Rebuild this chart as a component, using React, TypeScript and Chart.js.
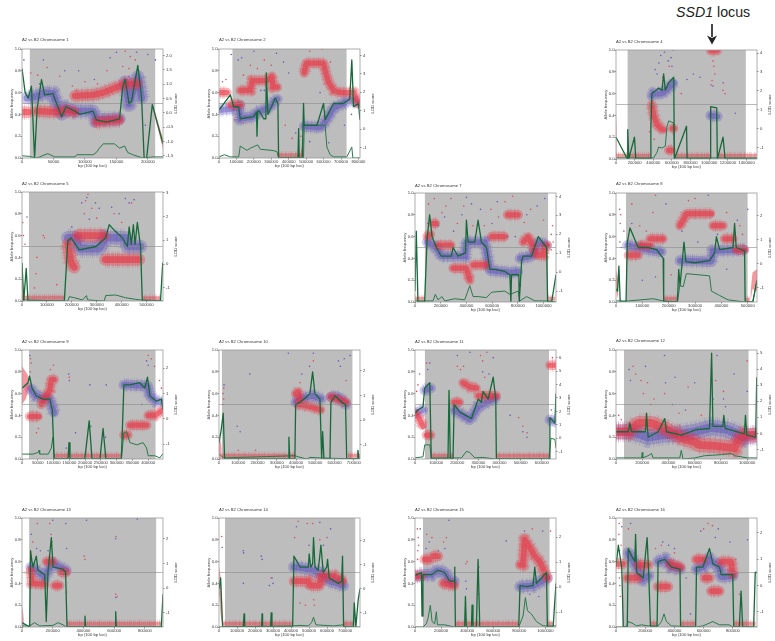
import React, { useEffect, useRef } from "react";
import { Chart, registerables } from "chart.js";
Chart.register(...registerables);

type P = [number, number | null];
const xLabel = "bp (100 bp loci)";
const yLabel = "Allele frequency";
const lodLabel = "LOD score";
const afTicks = [0, 0.2, 0.4, 0.6, 0.8, 1];

// All x values below are in thousands of bp; y values are readings against the 0-1 frequency axis.
const chr1Green: P[] = [[0,.82],[5,.6],[10,.55],[15,.66],[20,0],[24,.45],[31,.72],[36,.58],[49,.59],[55,.5],[63,.38],[70,.47],[84,.43],[92,.4],[113,.43],[118,.35],[134,.33],[155,.36],[160,.65],[164,.72],[170,.5],[174,.52],[184,.85],[190,.55],[194,0],[198,0],[207,.49],[224,.13]];
const chr1Low: P[] = [[0,.02],[12,.015],[23,0],[28,.01],[41,.04],[52,.01],[84,.01],[87,.03],[113,.03],[118,.05],[123,.09],[129,.13],[147,.13],[155,.09],[163,.11],[168,.05],[176,.03],[192,0],[208,.01],[224,.01]];
const chr1Blue: P[] = [[8,.55],[18,.56],[26,.57],[36,.6],[49,.59],[55,.5],[63,.4],[70,.46],[84,.43],[113,.43],[118,.35],[155,.36],[0,null],[164,.7],[170,.5],[184,.75],[190,.55]];
const chr1Red: P[] = [[0,.42],[11,.42],[0,null],[24,.43],[55,.42],[70,.44],[84,.42],[0,null],[84,.57],[113,.58],[129,.6],[155,.66],[165,.68],[184,.68],[0,null],[118,.33],[155,.35]];
const chr1Base: P[] = [];
const chr1Wedge = [[207,.47,.51],[224,.08,.18]];
const chr1DotsR: P[] = [[14,.78],[25,.76],[40,.83],[80,.66],[100,.7],[120,.68],[135,.8],[160,.84],[170,.82],[180,.9],[164,.98],[172,.93],[86,.62],[60,.75]];
const chr1DotsB: P[] = [[3,.9],[28,.68],[68,.8],[90,.8],[115,.72],[140,.92],[150,.97],[170,.75],[182,.97],[200,.95],[212,.9],[196,.3],[34,.9]];

const chr2Green: P[] = [[0,.44],[65,.58],[84,.47],[113,.47],[122,.36],[199,.38],[215,.42],[218,.2],[222,.43],[233,.43],[256,.36],[269,.36],[271,.78],[281,.4],[323,.55],[338,.5],[342,0],[453,0],[457,.27],[460,0],[478,0],[485,.5],[489,.3],[562,.3],[600,.5],[609,.35],[657,.5],[714,.5],[750,.54],[762,.9],[772,.47],[800,.5],[809,.35]];
const chr2Low: P[] = [[0,.01],[31,.03],[65,.01],[113,.01],[122,.11],[160,.07],[180,.09],[222,.12],[237,.08],[304,.07],[332,.06],[342,0],[485,0],[489,.3],[609,.3],[619,.1],[638,.03],[657,.01],[733,.01],[762,.1],[768,0],[809,0]];
const chr2Blue: P[] = [[0,.44],[70,.45],[113,.47],[122,.36],[199,.38],[218,.42],[256,.44],[294,.47],[323,.53],[335,.54],[0,null],[489,.29],[581,.28],[609,.33],[628,.38],[657,.46],[714,.5],[753,.54],[800,.5]];
const chr2Red: P[] = [[8,.6],[46,.6],[0,null],[65,.49],[122,.49],[0,null],[122,.62],[180,.62],[190,.71],[275,.71],[304,.75],[310,.65],[335,.65],[0,null],[489,.78],[500,.87],[600,.87],[609,.8],[628,.7],[657,.62],[695,.6],[772,.6],[800,.5]];
const chr2Base: P[] = [[342,.025],[476,.025]];
const chr2Wedge = [[470,0,.06],[486,0,.2]];
const chr2DotsR: P[] = [[20,.7],[40,.72],[90,.35],[140,.76],[180,.85],[220,.82],[260,.9],[300,.85],[520,.98],[590,1],[640,.88],[380,.3],[420,.18],[470,.2],[140,.32]];
const chr2DotsB: P[] = [[70,.95],[130,.92],[200,.98],[240,.62],[260,.62],[330,.96],[440,.23],[370,.88],[400,.78],[520,.15],[580,.6],[630,.14],[720,.3],[760,.4],[110,.9]];

const chr4Green: P[] = [[0,.2],[122,0],[126,.27],[137,0],[198,.2],[212,0],[367,0],[374,.3],[385,.6],[457,.65],[493,.63],[511,.78],[529,.63],[565,.7],[619,.75],[626,0],[756,.3],[763,0],[1008,0],[1015,.48],[1080,.47],[1087,0],[1148,.2],[1170,0],[1512,0]];
const chr4Low: P[] = [[0,.01],[367,.01],[403,.01],[439,.06],[457,.11],[493,.1],[529,.12],[547,.3],[565,.35],[619,.33],[626,.01],[1512,.01]];
const chr4Blue: P[] = [[385,.58],[403,.6],[493,.6],[565,.65],[619,.7],[0,null],[1015,.4],[1087,.39]];
const chr4Red: P[] = [[385,.5],[403,.4],[439,.32],[475,.28],[511,.27],[0,null],[565,.08],[601,.08],[0,null],[605,.28],[622,.28],[0,null],[1015,.995],[1087,.995]];
const chr4Base: P[] = [[0,.03],[367,.03],[0,null],[626,.03],[1008,.03],[0,null],[1087,.03],[1512,.03]];
const chr4Wedge = [[0,.15,.4],[8,.03,.3]];
const chr4DotsR: P[] = [[1040,.9],[1050,.85],[1060,.78],[1030,.72],[1020,.68],[360,.25],[410,.18],[700,.6],[1148,.63],[1170,.6],[500,.75],[570,.85]];
const chr4DotsB: P[] = [[420,.82],[460,.88],[480,.95],[520,.98],[560,.9],[610,1],[590,.93],[440,.78],[760,.73],[830,.78],[900,.75],[1040,.67],[1150,.7],[1280,.42],[600,.85]];

const chr5Green: P[] = [[0,.35],[7,0],[17,.3],[24,0],[170,0],[184,.55],[197,.58],[230,.47],[297,.5],[336,.58],[350,.7],[370,.65],[403,.58],[423,.5],[430,.68],[439,.52],[447,.7],[454,.52],[463,.72],[476,.5],[483,0],[556,0],[565,.35]];
const chr5Low: P[] = [[0,.01],[184,0],[190,.04],[210,.03],[243,.01],[259,.05],[263,.01],[330,0],[336,.05],[376,.055],[416,.03],[456,.015],[476,.01],[565,0]];
const chr5Blue: P[] = [[184,.58],[216,.58],[230,.48],[310,.48],[336,.58],[416,.58],[423,.5],[476,.5]];
const chr5Red: P[] = [[184,.52],[197,.35],[210,.31],[0,null],[223,.6],[330,.6],[0,null],[334,.38],[470,.38]];
const chr5Base: P[] = [[0,.03],[170,.03],[0,null],[483,.025],[556,.025]];
const chr5Wedge = [[0,0,.35],[6,0,.1]];
const chr5DotsR: P[] = [[3,.72],[6,.6],[12,.52],[90,.58],[85,.6],[60,.4],[56,.25],[140,.15],[250,.8],[255,.92],[265,.98],[280,.85],[300,.76],[370,.8],[400,.72],[440,.9],[50,.12]];
const chr5DotsB: P[] = [[20,.77],[260,.95],[270,.75],[310,.85],[360,.86],[390,.8],[415,.94],[430,.9],[450,.93],[200,.68],[240,.9],[295,.9]];

const chr7Green: P[] = [[0,.1],[10,.65],[23,0],[75,0],[94,.58],[114,.8],[133,.6],[166,.5],[205,.42],[283,.42],[296,.5],[335,.42],[393,.45],[400,.75],[413,.55],[465,.55],[491,.75],[517,.55],[556,.5],[582,.3],[621,.3],[699,.28],[738,.25],[746,0],[751,.25],[808,.25],[811,0],[830,.38],[842,.42],[907,.42],[959,.6],[1024,.5],[1032,0],[1063,0],[1097,.25]];
const chr7Low: P[] = [[0,.01],[140,.01],[158,.07],[179,.02],[210,.05],[231,.01],[309,.03],[387,.02],[426,.15],[452,.05],[491,.05],[556,.04],[595,.09],[699,.1],[738,.07],[803,.1],[816,.01],[868,.05],[933,.01],[1037,.01],[1097,0]];
const chr7Blue: P[] = [[94,.55],[166,.5],[205,.42],[296,.42],[390,.42],[400,.55],[543,.55],[582,.29],[751,.27],[800,.28],[0,null],[816,.4],[907,.42],[959,.55],[1024,.52]];
const chr7Red: P[] = [[94,.6],[120,.62],[0,null],[140,.72],[166,.72],[0,null],[179,.52],[283,.52],[0,null],[296,.31],[400,.31],[426,.2],[0,null],[452,.34],[556,.34],[0,null],[595,.6],[699,.6],[0,null],[720,.8],[803,.8],[0,null],[842,.55],[881,.6],[920,.5],[946,.43],[998,.43],[1011,.5],[1030,.52]];
const chr7Base: P[] = [[0,.03],[75,.03],[0,null],[1037,.03],[1090,.03]];
const chr7DotsR: P[] = [[105,.9],[150,.95],[210,.82],[240,.88],[280,.95],[330,.72],[380,.88],[450,.7],[540,.7],[590,.85],[650,.78],[700,.92],[760,.97],[850,.73],[900,.85],[1000,.75],[1060,.62],[1070,.7],[1075,.55],[1060,.48]];
const chr7DotsB: P[] = [[100,.72],[180,.7],[230,.78],[300,.65],[365,.8],[400,.96],[440,.9],[510,.85],[600,.72],[640,.92],[720,.6],[780,.6],[870,.8],[950,.88],[1010,.95],[820,.15]];

const chr8Green: P[] = [[0,.12],[6,.1],[11,.33],[16,0],[38,0],[43,.55],[53,.68],[84,.5],[122,.5],[154,.48],[179,.4],[181,0],[233,0],[238,.3],[243,.15],[258,.55],[265,.37],[299,.36],[355,.38],[374,.45],[381,.6],[393,.48],[444,.5],[450,.72],[456,.5],[488,.47],[490,0],[519,0],[535,.2]];
const chr8Low: P[] = [[0,.01],[47,.01],[141,.03],[179,.01],[233,0],[242,.15],[255,.14],[267,.26],[355,.24],[362,.1],[393,.06],[425,.02],[488,0],[519,0],[532,.16],[535,.17]];
const chr8Blue: P[] = [[43,.52],[84,.5],[122,.48],[173,.46],[0,null],[242,.38],[362,.37],[368,.47],[488,.48]];
const chr8Red: P[] = [[47,.43],[84,.43],[0,null],[91,.52],[129,.52],[0,null],[129,.58],[179,.58],[0,null],[242,.7],[255,.75],[267,.81],[362,.81],[0,null],[368,.7],[406,.7],[0,null],[412,.58],[444,.58],[0,null],[456,.48],[488,.48]];
const chr8Base: P[] = [[179,.03],[236,.03],[0,null],[490,.02],[507,.02]];
const chr8Wedge = [[0,.1,.3],[8,.03,.2]];
const chr8Wedge2 = [[510,0,.08],[518,.12,.27],[535,.1,.3]];
const chr8DotsR: P[] = [[14,.85],[18,.8],[16,.72],[30,.65],[60,.9],[90,.7],[115,.65],[140,.82],[150,.98],[210,.25],[275,.93],[300,.95],[420,.82],[480,.62],[470,.7]];
const chr8DotsB: P[] = [[15,.55],[20,.5],[60,.72],[100,.2],[150,.23],[190,.9],[250,.65],[310,.55],[385,.62],[420,.3],[460,.75],[500,.85],[350,.98]];

const chr9Green: P[] = [[0,.65],[19,.7],[24,.76],[32,.65],[45,.58],[67,.55],[88,.55],[96,.45],[102,0],[146,0],[149,.15],[152,0],[199,0],[213,.35],[222,0],[247,0],[257,.28],[266,0],[315,0],[323,.68],[342,.68],[373,.7],[389,.65],[398,.75],[405,.58],[426,.53],[442,.55],[447,.45]];
const chr9Low: P[] = [[0,.045],[35,.045],[51,.06],[54,.08],[56,.045],[83,.045],[93,.1],[98,.2],[102,0],[315,0],[323,.24],[332,.25],[342,.15],[364,.13],[384,.15],[395,.1],[400,.03],[421,.03],[437,.01],[447,.05]];
const chr9Blue: P[] = [[24,.65],[45,.58],[67,.56],[88,.55],[102,.42],[0,null],[323,.68],[398,.67],[405,.58],[426,.53],[447,.52]];
const chr9Red: P[] = [[24,.39],[54,.39],[0,null],[61,.5],[77,.58],[88,.63],[93,.73],[102,.73],[0,null],[323,.22],[336,.22],[0,null],[342,.31],[395,.31],[0,null],[400,.4],[421,.4],[447,.45]];
const chr9Base: P[] = [[102,.03],[315,.03]];
const chr9Wedge = [[0,.5,.85],[12,.55,.8],[22,.65,.75]];
const chr9DotsR: P[] = [[27,.92],[29,.88],[26,.8],[90,.82],[100,.86],[46,.24],[52,.28],[150,.75],[420,.85],[410,.92],[400,.95],[436,.72],[442,.65],[436,.55]];
const chr9DotsB: P[] = [[25,.95],[140,.1],[148,.78],[150,.72],[170,.24],[218,.3],[215,.68],[265,.2],[267,.68],[380,.5],[400,.86],[395,.9]];

const chr10Green: P[] = [[0,.15],[10,.25],[22,.42],[29,0],[360,0],[363,.2],[367,0],[394,0],[398,.5],[420,.52],[455,.57],[472,.6],[486,.8],[498,.6],[524,.55],[533,0],[538,.25],[545,0],[576,0],[581,.52],[602,.58],[637,.52],[657,.5],[663,0],[720,0],[721,.08],[727,0]];
const chr10Low: P[] = [[0,.05],[22,.01],[394,.03],[412,.02],[455,0],[472,.015],[524,.01],[732,0]];
const chr10Blue: P[] = [[398,.52],[420,.55],[486,.58],[530,.55],[0,null],[581,.57],[620,.57],[660,.5]];
const chr10Red: P[] = [[398,.6],[412,.62],[420,.5],[472,.48],[530,.45],[0,null],[581,.57],[660,.52]];
const chr10Base: P[] = [[14,.03],[360,.03],[0,null],[370,.03],[394,.03],[0,null],[670,.03],[732,.03]];
const chr10Wedge = [[0,0,.25],[14,0,.1]];
const chr10DotsR: P[] = [[21,.6],[24,.55],[25,.65],[20,.5],[100,.08],[190,.08],[420,.7],[490,.9],[660,.72]];
const chr10DotsB: P[] = [[26,.68],[95,.3],[110,.25],[160,.78],[360,.97],[430,.78],[470,.85],[490,.97],[620,.9],[630,.85],[650,.92],[680,.95]];

const chr11Green: P[] = [[0,.42],[14,.45],[38,.48],[46,.65],[70,.7],[77,0],[156,0],[161,.63],[167,0],[180,0],[185,.5],[212,.43],[267,.37],[299,.55],[314,.52],[322,.62],[346,.55],[370,.75],[382,.55],[385,0],[634,0],[638,.38],[662,.33],[667,.6]];
const chr11Low: P[] = [[0,.01],[38,.02],[46,.13],[70,.13],[77,.01],[220,.01],[243,.07],[259,.06],[283,.01],[318,.015],[380,0],[634,0],[643,.19],[662,.18],[667,.1]];
const chr11Blue: P[] = [[0,.42],[38,.45],[0,null],[46,.63],[74,.65],[0,null],[185,.45],[212,.42],[260,.36],[299,.48],[380,.56],[0,null],[638,.36],[667,.34]];
const chr11Red: P[] = [[0,.42],[20,.37],[38,.3],[0,null],[54,.22],[74,.22],[0,null],[185,.52],[212,.52],[0,null],[227,.7],[260,.66],[291,.65],[0,null],[299,.58],[385,.58],[0,null],[638,.86],[667,.86]];
const chr11Base: P[] = [[77,.03],[156,.03],[0,null],[163,.03],[180,.03],[0,null],[385,.03],[634,.03]];
const chr11DotsR: P[] = [[8,.62],[14,.68],[22,.78],[55,.88],[215,.82],[230,.85],[200,.85],[310,.95],[320,.9],[340,.98],[330,.75],[510,.3],[530,.24],[490,.38],[650,.93]];
const chr11DotsB: P[] = [[60,.82],[70,.88],[200,.95],[260,.98],[320,.8],[350,.78],[370,.93],[450,.4],[510,.25],[530,.2],[645,.45]];

const chr12Green: P[] = [[0,.25],[94,.25],[106,.33],[119,.25],[225,.25],[233,.42],[245,.2],[321,.25],[372,.37],[385,.25],[498,.22],[612,.27],[713,.28],[729,.97],[739,.3],[815,.3],[822,.4],[832,.28],[979,.23],[987,.4],[997,.22],[1065,.2],[1073,.75]];
const chr12Low: P[] = [[0,.01],[195,.01],[200,.06],[204,.01],[245,.03],[271,.05],[283,.01],[486,.01],[498,.08],[511,0],[600,.01],[675,.03],[802,.04],[878,.05],[903,.03],[1004,.01],[1075,.01]];
const chr12Blue: P[] = [[0,.25],[120,.25],[245,.2],[347,.22],[498,.23],[600,.25],[726,.29],[853,.27],[979,.2],[1075,.22]];
const chr12Red: P[] = [[0,.25],[94,.25],[170,.33],[271,.33],[372,.28],[448,.23],[524,.18],[600,.16],[625,.13],[751,.12],[903,.1],[928,.17],[979,.22],[1075,.22]];
const chr12Base: P[] = [];
const chr12Wedge = [[478,.15,.32],[492,.15,.32]];
const chr12DotsR: P[] = [[20,.4],[40,.36],[150,.78],[190,.72],[210,.6],[240,.7],[265,.5],[370,.6],[480,.42],[550,.66],[650,.4],[760,.72],[820,.62],[1000,.9],[290,.55],[130,.85]];
const chr12DotsB: P[] = [[100,.82],[110,.72],[225,.85],[370,.95],[378,.7],[430,.5],[450,.75],[530,.45],[600,.7],[740,.55],[820,.55],[835,.48],[1000,.62],[770,.95],[900,.78]];

const chr13Green: P[] = [[0,.04],[50,0],[56,.7],[65,.6],[72,.55],[93,.65],[104,.52],[148,.48],[158,.05],[169,.5],[191,.82],[202,.55],[267,.53],[284,.5],[293,0],[408,0],[410,.1],[414,0],[607,0],[610,.14],[614,0],[907,0],[918,.3]];
const chr13Low: P[] = [[0,.01],[50,.01],[82,.04],[115,.01],[202,.015],[234,.04],[267,.02],[289,0],[918,0]];
const chr13Blue: P[] = [[56,.55],[93,.52],[148,.46],[170,.52],[202,.58],[289,.52]];
const chr13Red: P[] = [[56,.52],[65,.4],[148,.39],[0,null],[158,.6],[202,.6],[0,null],[213,.38],[245,.38],[0,null],[256,.5],[289,.5]];
const chr13Base: P[] = [[293,.03],[907,.03]];
const chr13Wedge = [[0,0,.2],[12,0,.08]];
const chr13DotsR: P[] = [[70,.78],[100,.95],[180,.95],[190,.85],[195,.78],[405,.65],[410,.62],[610,.3],[612,.83],[620,.28],[290,.32]];
const chr13DotsB: P[] = [[60,.85],[95,.72],[120,.7],[170,.7],[200,.98],[285,.95],[290,.72],[610,.81],[420,.98],[750,.99],[610,.27]];

const chr14Green: P[] = [[0,.35],[9,.45],[20,0],[135,0],[139,.12],[142,0],[237,0],[239,.12],[242,0],[287,0],[290,.13],[294,0],[409,0],[416,.65],[450,.55],[496,.55],[501,.67],[509,.55],[520,.58],[525,.82],[533,.55],[551,.52],[566,.75],[579,.5],[598,.55],[603,.62],[612,.45],[662,.4],[681,.42],[686,.65],[692,0],[746,0],[751,.22],[760,0],[773,.25],[783,.35]];
const chr14Low: P[] = [[0,0],[412,.01],[450,.015],[496,.01],[514,.04],[525,.09],[538,.02],[635,.01],[690,.02],[699,0],[783,0]];
const chr14Blue: P[] = [[416,.55],[470,.54],[560,.5],[612,.42],[660,.4],[690,.38]];
const chr14Red: P[] = [[416,.42],[496,.42],[505,.38],[560,.38],[566,.47],[640,.47],[690,.42]];
const chr14Base: P[] = [[20,.03],[409,.03],[0,null],[692,.03],[746,.03]];
const chr14Wedge = [[0,.3,.55],[10,.1,.45],[20,0,.1]];
const chr14DotsR: P[] = [[15,.83],[420,.82],[440,.97],[490,.95],[520,.95],[560,.8],[600,.82],[530,.2],[525,.25],[480,.2],[450,.22],[290,.45]];
const chr14DotsB: P[] = [[18,.73],[135,.7],[137,.68],[235,.65],[240,.62],[295,.45],[300,.4],[135,.4],[280,.38],[430,.92],[500,.75],[580,.75],[620,.9],[560,.96]];

const chr15Green: P[] = [[0,.47],[49,.5],[54,.1],[61,.48],[125,.48],[177,.52],[228,.5],[266,.42],[300,.42],[305,.55],[310,0],[381,0],[387,.28],[394,0],[433,0],[438,.2],[445,0],[471,0],[484,.62],[497,0],[796,0],[806,.38],[855,.37],[906,.38],[919,.55],[932,.4],[970,.45],[1009,.5],[1016,0],[1060,0],[1082,.4]];
const chr15Low: P[] = [[0,0],[61,0],[87,.03],[100,.08],[118,.2],[131,.05],[151,.03],[164,.14],[172,.02],[228,.02],[300,0],[796,0],[829,.1],[847,.27],[863,.15],[893,.12],[932,.05],[958,.03],[983,.01],[1082,.01]];
const chr15Blue: P[] = [[0,.46],[50,.48],[125,.48],[177,.52],[228,.5],[266,.42],[300,.42],[0,null],[806,.37],[906,.38],[970,.42],[1016,.45]];
const chr15Red: P[] = [[0,.47],[49,.47],[0,null],[74,.62],[113,.62],[0,null],[138,.65],[177,.65],[0,null],[215,.4],[300,.38],[0,null],[806,.57],[829,.57],[842,.8],[881,.73],[919,.65],[958,.6],[996,.5],[1016,.45]];
const chr15Base: P[] = [[310,.03],[796,.03],[0,null],[1016,.03],[1060,.03]];
const chr15DotsR: P[] = [[20,.62],[22,.7],[25,.82],[18,.9],[28,.75],[90,.85],[130,.82],[220,.78],[240,.82],[390,.58],[400,.6],[484,.45],[484,.35],[490,.3],[1040,.88],[900,.9]];
const chr15DotsB: P[] = [[40,.9],[85,.72],[110,.78],[180,.7],[230,.72],[260,.98],[390,.42],[395,.35],[490,.55],[700,.79],[840,.88],[880,.3],[950,.28],[980,.88]];

const chr16Green: P[] = [[0,.55],[16,.75],[39,.55],[50,0],[77,0],[84,.72],[107,.65],[129,.6],[134,.85],[141,.5],[186,.45],[213,.82],[225,.45],[236,0],[281,0],[288,.6],[334,.62],[379,.55],[438,.53],[442,0],[545,0],[551,.55],[595,.55],[640,.72],[663,.58],[708,.55],[720,.48],[799,.48],[806,0],[844,0],[856,.33],[867,0],[942,0],[953,.5],[965,.5]];
const chr16Low: P[] = [[0,0],[72,0],[84,.05],[118,.03],[141,.01],[175,.02],[220,.01],[288,.01],[311,.05],[329,.12],[345,.05],[379,.01],[549,0],[595,.01],[629,.03],[663,.05],[708,.02],[776,.02],[799,0],[965,0]];
const chr16Blue: P[] = [[84,.68],[129,.58],[186,.44],[225,.47],[0,null],[288,.6],[334,.62],[379,.55],[438,.53],[0,null],[551,.53],[595,.55],[640,.62],[708,.55],[720,.46],[799,.47]];
const chr16Red: P[] = [[0,.58],[45,.58],[0,null],[77,.45],[152,.45],[0,null],[152,.57],[220,.57],[0,null],[288,.37],[356,.37],[0,null],[368,.58],[442,.55],[0,null],[549,.62],[595,.62],[0,null],[606,.45],[640,.45],[0,null],[652,.33],[708,.33],[0,null],[720,.6],[788,.6],[799,.48]];
const chr16Base: P[] = [[236,.03],[281,.03],[0,null],[442,.03],[545,.03],[0,null],[806,.03],[955,.03]];
const chr16DotsR: P[] = [[20,.85],[22,.95],[25,.7],[24,.45],[26,.38],[30,.28],[35,.75],[85,.9],[270,.72],[310,.75],[400,.68],[600,.9],[630,.95],[660,.93],[820,.62],[845,.3]];
const chr16DotsB: P[] = [[40,.92],[100,.95],[320,.78],[360,.75],[400,.72],[580,.88],[680,.82],[700,.9],[780,.78],[900,.8],[480,.45],[510,.12]];

const panels = [
  { n: 1, left: 22.3, top: 49.3, xMax: 224, gray: [12, 212], xt: [0,50,100,150,200], lod: [-1.58,2.23], lt: [-1.5,-1,-.5,0,.5,1,1.5,2], green: chr1Green, low: chr1Low, blue: chr1Blue, red: chr1Red, base: chr1Base, wedges: [chr1Wedge], dr: chr1DotsR, db: chr1DotsB, gap: 9, k: 1.2 },
  { n: 2, left: 218.7, top: 49.3, xMax: 809, gray: [76, 733], xt: [0,100,200,300,400,500,600,700,800], lod: [-1.58,4.36], lt: [-1,0,1,2,3,4], green: chr2Green, low: chr2Low, blue: chr2Blue, red: chr2Red, base: chr2Base, wedges: [chr2Wedge], dr: chr2DotsR, db: chr2DotsB, gap: 9, k: 1 },
  { n: 4, left: 616, top: 49.7, xMax: 1512, gray: [122, 1393], xt: [0,200,400,600,800,1000,1200,1400], lod: [-1.6,4.16], lt: [-1,0,1,2,3,4], green: chr4Green, low: chr4Low, blue: chr4Blue, red: chr4Red, base: chr4Base, wedges: [chr4Wedge], dr: chr4DotsR, db: chr4DotsB, gap: 8, k: 1 },
  { n: 5, left: 22.3, top: 192.3, xMax: 566, gray: [27, 536], xt: [0,100,200,300,400,500], lod: [-1.56,3.04], lt: [-1,0,1,2,3], green: chr5Green, low: chr5Low, blue: chr5Blue, red: chr5Red, base: chr5Base, wedges: [chr5Wedge], dr: chr5DotsR, db: chr5DotsB, gap: 8, k: 1.3 },
  { n: 7, left: 415.3, top: 192.7, xMax: 1097, gray: [75, 1037], xt: [0,200,400,600,800,1000], lod: [-1.58,4.18], lt: [-1,0,1,2,3,4], green: chr7Green, low: chr7Low, blue: chr7Blue, red: chr7Red, base: chr7Base, wedges: [], dr: chr7DotsR, db: chr7DotsB, gap: 7, k: 1 },
  { n: 8, left: 616, top: 192.7, xMax: 535, gray: [38, 500], xt: [0,100,200,300,400,500], lod: [-1.6,2.93], lt: [-1,0,1,2], green: chr8Green, low: chr8Low, blue: chr8Blue, red: chr8Red, base: chr8Base, wedges: [chr8Wedge, chr8Wedge2], dr: chr8DotsR, db: chr8DotsB, gap: 9.5, k: 1 },
  { n: 9, left: 22.3, top: 350, xMax: 447, gray: [22, 424], xt: [0,50,100,150,200,250,300,350,400], lod: [-1.58,2.72], lt: [-1,0,1,2], green: chr9Green, low: chr9Low, blue: chr9Blue, red: chr9Red, base: chr9Base, wedges: [chr9Wedge], dr: chr9DotsR, db: chr9DotsB, gap: 8.5, k: 1 },
  { n: 10, left: 219, top: 350, xMax: 732, gray: [14, 694], xt: [0,100,200,300,400,500,600,700], lod: [-1.58,2.85], lt: [-1,0,1,2], green: chr10Green, low: chr10Low, blue: chr10Blue, red: chr10Red, base: chr10Base, wedges: [chr10Wedge], dr: chr10DotsR, db: chr10DotsB, gap: 8.5, k: 1 },
  { n: 11, left: 415.3, top: 350, xMax: 667, gray: [46, 634], xt: [0,100,200,300,400,500,600], lod: [-1.55,6.57], lt: [-1,0,1,2,3,4,5,6], green: chr11Green, low: chr11Low, blue: chr11Blue, red: chr11Red, base: chr11Base, wedges: [], dr: chr11DotsR, db: chr11DotsB, gap: 8.5, k: 1 },
  { n: 12, left: 616, top: 350, xMax: 1075, gray: [61, 1012], xt: [0,200,400,600,800,1000], lod: [-1.6,5.2], lt: [-1,0,1,2,3,4,5], green: chr12Green, low: chr12Low, blue: chr12Blue, red: chr12Red, base: chr12Base, wedges: [chr12Wedge], dr: chr12DotsR, db: chr12DotsB, gap: 9, k: 1.5 },
  { n: 13, left: 22.3, top: 518.3, xMax: 918, gray: [46, 875], xt: [0,200,400,600,800], lod: [-1.58,2.85], lt: [-1,0,1,2], green: chr13Green, low: chr13Low, blue: chr13Blue, red: chr13Red, base: chr13Base, wedges: [chr13Wedge], dr: chr13DotsR, db: chr13DotsB, gap: 8.5, k: 1 },
  { n: 14, left: 219, top: 518.3, xMax: 783, gray: [33, 758], xt: [0,100,200,300,400,500,600,700], lod: [-1.6,2.93], lt: [-1,0,1,2], green: chr14Green, low: chr14Low, blue: chr14Blue, red: chr14Red, base: chr14Base, wedges: [chr14Wedge], dr: chr14DotsR, db: chr14DotsB, gap: 8.5, k: 1.1 },
  { n: 15, left: 415.3, top: 518.3, xMax: 1082, gray: [61, 1034], xt: [0,200,400,600,800,1000], lod: [-1.59,2.76], lt: [-1,0,1,2], green: chr15Green, low: chr15Low, blue: chr15Blue, red: chr15Red, base: chr15Base, wedges: [], dr: chr15DotsR, db: chr15DotsB, gap: 8.5, k: 1.1 },
  { n: 16, left: 616, top: 518.3, xMax: 965, gray: [43, 913], xt: [0,200,400,600,800], lod: [-1.58,2.56], lt: [-1,0,1,2], green: chr16Green, low: chr16Low, blue: chr16Blue, red: chr16Red, base: chr16Base, wedges: [], dr: chr16DotsR, db: chr16DotsB, gap: 8.5, k: 1.1 },
];

const PW = 141, PH = 109, LW = 20, RW = 18, TH = 13, BH = 14;
const FONT = "'Liberation Sans'";
const TXT = "#3a3a3a";
const TICK_SIZE = 4.2, TITLE_SIZE = 4.2;
const GRAIN = [0.7, 1.3, 1.2, 0.9, 0.5, 1.9, 0.9, 0.7, 0.4, 1.5];

const pts = (a: P[], conv?: (v: number) => number) =>
  a.map(([x, y]) => ({ x: (x as number) * 1000, y: y === null ? null : conv ? conv(y) : y }));

const frame = {
  id: "frame",
  afterDraw(c: any) {
    const { left, top, right, width, height } = c.chartArea;
    const g = c.ctx;
    g.save();
    g.strokeStyle = "#9a9a9a";
    g.lineWidth = 0.8;
    g.strokeRect(left, top, width, height);
    g.translate(right + 13.3, top + height / 2);
    g.rotate(-Math.PI / 2);
    g.font = `${TITLE_SIZE}px ${FONT}`;
    g.fillStyle = TXT;
    g.textAlign = "center";
    g.textBaseline = "middle";
    g.fillText(lodLabel, 0, 0);
    g.restore();
  },
};

function Panel({ p }: { p: any }) {
  const ref = useRef<HTMLCanvasElement>(null);
  useEffect(() => {
    const conv = (v: number) => p.lod[0] + v * (p.lod[1] - p.lod[0]);
    const line = (o: any) => ({ type: "line", pointRadius: 0, borderJoinStyle: "round", spanGaps: false, tension: 0, xAxisID: "x", yAxisID: "y", ...o });
    const blue = pts(p.blue), red = pts(p.red), base = pts(p.base);
    const soft = (data: any[], rgb: string, w: number, a: number[], order: number) => [
      line({ data, borderColor: `rgba(${rgb},${a[0]})`, borderWidth: w * 1.35, borderDash: GRAIN, order: order + 0.2 }),
      line({ data, borderColor: `rgba(${rgb},${a[1]})`, borderWidth: w, borderDash: [1.1, 0.8, 0.6, 1.2, 1.5, 0.7], borderCapStyle: "round", order: order + 0.1 }),
      line({ data, borderColor: `rgba(${rgb},${a[2]})`, borderWidth: w * 0.55, borderCapStyle: "round", order }),
    ];
    const ds: any[] = [
      line({ data: [{ x: p.gray[0] * 1000, y: 1 }, { x: p.gray[1] * 1000, y: 1 }], borderWidth: 0, fill: "origin", backgroundColor: "#bdbdbd", order: 12 }),
      line({ data: base, borderColor: "rgba(222,70,80,.5)", borderWidth: 4, order: 11 }),
      line({ data: base, borderColor: "rgba(222,70,80,.32)", borderWidth: 8, borderDash: GRAIN, order: 11 }),
      ...soft(blue, "80,68,185", 10.5 * p.k, [0.22, 0.28, 0.42], 9),
      ...soft(red, "234,48,62", 9.5 * p.k, [0.26, 0.34, 0.55], 7),
      line({ data: pts(p.db), showLine: false, pointRadius: 0.8, pointBackgroundColor: "#6a5cb8", pointBorderWidth: 0, order: 5 }),
      line({ data: pts(p.dr), showLine: false, pointRadius: 0.8, pointBackgroundColor: "#d8505f", pointBorderWidth: 0, order: 5 }),
      line({ data: [{ x: 0, y: 0.5 }, { x: p.xMax * 1000, y: 0.5 }], borderColor: "#8c8c8c", borderWidth: 0.6, order: 4 }),
      line({ data: pts(p.green, conv), yAxisID: "y1", borderColor: "#17693a", borderWidth: 1.3, order: 2 }),
      line({ data: pts(p.low, conv), yAxisID: "y1", borderColor: "#2a7a4c", borderWidth: 1, order: 2 }),
    ];
    for (const w of p.wedges) {
      ds.push(line({ data: w.map((t: number[]) => ({ x: t[0] * 1000, y: t[2] })), borderWidth: 0, fill: "+1", backgroundColor: "rgba(235,70,80,.55)", order: 3 }));
      ds.push(line({ data: w.map((t: number[]) => ({ x: t[0] * 1000, y: t[1] })), borderWidth: 0, order: 3 }));
    }
    const tickFont = { family: FONT, size: TICK_SIZE };
    const titleFont = { family: FONT, size: TITLE_SIZE };
    const titleLine = TITLE_SIZE * 1.2;
    const fit = (w?: number, h?: number) => (s: any) => {
      if (w !== undefined) s.width = w;
      if (h !== undefined) s.height = h;
      s.paddingTop = s.paddingBottom = s.paddingLeft = s.paddingRight = 0;
    };
    const setTicks = (vals: number[]) => (s: any) => { s.ticks = vals.map((value) => ({ value })); };
    const grid = { drawOnChartArea: false, tickLength: 1.5, color: "#888" };
    const chart = new Chart(ref.current as any, {
      data: { datasets: ds },
      plugins: [frame],
      options: {
        animation: false, responsive: false,
        events: [],
        plugins: {
          legend: { display: false }, tooltip: { enabled: false },
          title: { display: true, text: `A2 vs B2 Chromosome ${p.n}`, align: "start", fullSize: false, color: TXT, font: { ...titleFont, weight: "normal", lineHeight: 1.2 }, padding: { top: TH - titleLine / 2 - p.gap, bottom: p.gap - titleLine / 2 } },
        },
        scales: {
          x: { type: "linear", min: 0, max: p.xMax * 1000, afterBuildTicks: setTicks(p.xt.map((v: number) => v * 1000)), afterFit: fit(undefined, BH),
            ticks: { font: tickFont, color: TXT, padding: 0, maxRotation: 0, autoSkip: false, callback: (v: any) => String(v) },
            grid, border: { display: false },
            title: { display: true, text: xLabel, color: TXT, font: titleFont, padding: { top: 0, bottom: 3.2 } } },
          y: { type: "linear", position: "left", min: 0, max: 1, afterBuildTicks: setTicks(afTicks), afterFit: fit(LW),
            ticks: { font: tickFont, color: TXT, padding: 0, callback: (v: any) => Number(v).toFixed(1) },
            grid, border: { display: false },
            title: { display: true, text: yLabel, color: TXT, font: titleFont, padding: { top: 7, bottom: 0 } } },
          y1: { type: "linear", position: "right", min: p.lod[0], max: p.lod[1], afterBuildTicks: setTicks(p.lt), afterFit: fit(RW),
            ticks: { font: tickFont, color: TXT, padding: 1.5, callback: (v: any) => (p.n === 1 ? Number(v).toFixed(1) : String(v)) },
            grid, border: { display: false } },
        },
      } as any,
    } as any);
    return () => chart.destroy();
  }, [p]);
  return (
    <canvas
      ref={ref}
      width={PW + LW + RW}
      height={PH + TH + BH}
      style={{ position: "absolute", left: Math.round(p.left) - LW, top: Math.round(p.top) - TH, filter: "blur(0.5px)" }}
    />
  );
}

export default function App() {
  return (
    <div style={{ position: "absolute", left: 0, top: 0, width: 775, height: 641, background: "#fff", overflow: "hidden" }}>
      {panels.map((p) => <Panel key={p.n} p={p} />)}
      <div style={{ position: "absolute", left: 676, top: 3, fontFamily: FONT, fontSize: 14.2, lineHeight: "18px", color: "#222", whiteSpace: "nowrap" }}>
        <i>SSD1</i> locus
      </div>
      <svg width={20} height={26} style={{ position: "absolute", left: 702, top: 22 }}>
        <path d="M10 2 V15" stroke="#333" strokeWidth={1.8} />
        <path d="M5 13.5 L10 16 L15 13.5 L10 22.5 Z" fill="#222" />
      </svg>
    </div>
  );
}
